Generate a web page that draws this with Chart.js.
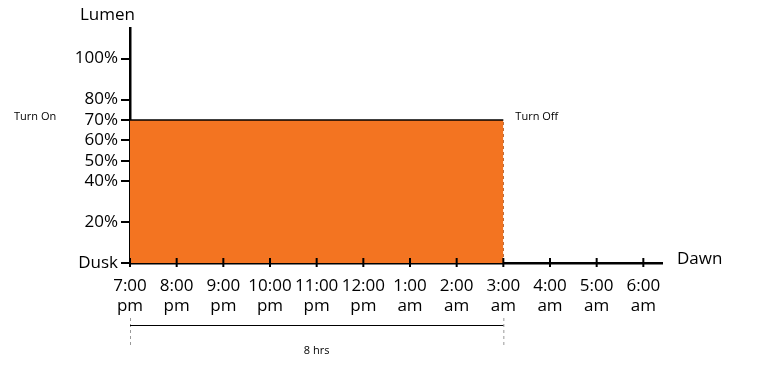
<!DOCTYPE html>
<html><head><meta charset="utf-8">
<script src="https://cdn.jsdelivr.net/npm/chart.js@4"></script>
<style>html,body{margin:0;padding:0;background:#fff}#wrap{width:759px;height:369px}</style>
</head><body><div id="wrap"><canvas id="c"></canvas></div>
<script>
const hours = [0,1,2,3,4,5,6,7,8,9,10,11];
const hourLabels = [["7:00","pm"],["8:00","pm"],["9:00","pm"],["10:00","pm"],["11:00","pm"],["12:00","pm"],["1:00","am"],["2:00","am"],["3:00","am"],["4:00","am"],["5:00","am"],["6:00","am"]];
const yTicks = [0,20,40,50,60,70,80,100];
const yTickLabels = ["Dusk","20%","40%","50%","60%","70%","80%","100%"];
const onHour = 0, offHour = 8;
const lumenLevel = 70;
const durationLabel = "8 hrs";

const FONT = "'Open Sans', sans-serif";

const annot = {
  id: 'annot',
  afterDraw(chart) {
    const ctx = chart.ctx, x = chart.scales.x, y = chart.scales.y;
    const y0 = y.getPixelForValue(0);
    const xOn = x.getPixelForValue(onHour), xOff = x.getPixelForValue(offHour);
    const yL = y.getPixelForValue(lumenLevel);
    ctx.save();
    ctx.strokeStyle = '#000'; ctx.lineWidth = 2;
    hours.forEach(h => { const px = x.getPixelForValue(h); ctx.beginPath(); ctx.moveTo(px, y0 - 5); ctx.lineTo(px, y0 + 4); ctx.stroke(); });
    ctx.fillStyle = '#000';
    ctx.font = "17px " + FONT; ctx.textBaseline = 'middle';
    ctx.textAlign = 'left';
    ctx.fillText('Lumen', 80, 15);
    ctx.fillText('Dawn', x.right + 15, y0 - 4);
    ctx.font = "11px " + FONT;
    ctx.fillText('Turn On', 14, yL - 3);
    ctx.fillText('Turn Off', xOff + 12, yL - 3);
    const yb = 325;
    ctx.strokeStyle = '#999'; ctx.lineWidth = 1; ctx.setLineDash([3,3]);
    [xOn, xOff].forEach(px => { ctx.beginPath(); ctx.moveTo(px + 0.5, 318); ctx.lineTo(px + 0.5, 346); ctx.stroke(); });
    ctx.setLineDash([]); ctx.strokeStyle = '#000';
    ctx.beginPath(); ctx.moveTo(xOn, yb + 0.5); ctx.lineTo(xOff, yb + 0.5); ctx.stroke();
    ctx.textAlign = 'center';
    ctx.fillText(durationLabel, (xOn + xOff) / 2, 351);
    ctx.restore();
  }
};

new Chart(document.getElementById('c'), {
  type: 'line',
  data: {
    datasets: [
      { data: [{x: onHour, y: lumenLevel}, {x: offHour, y: lumenLevel}], borderColor: '#000', borderWidth: 1.5,
        backgroundColor: '#F37421', fill: 'origin', pointRadius: 0, tension: 0 },
      { data: [{x: offHour, y: 0}, {x: offHour, y: lumenLevel}], borderColor: '#A8501A', borderWidth: 1,
        borderDash: [3,3], fill: false, pointRadius: 0 }
    ]
  },
  options: {
    responsive: true, maintainAspectRatio: false, animation: false,
    layout: { padding: { top: 28, right: 97, left: 0, bottom: 0 } },
    plugins: { legend: { display: false }, tooltip: { enabled: false } },
    scales: {
      x: {
        type: 'linear', min: 0, max: 11.4,
        afterBuildTicks: s => { s.ticks = hours.map(v => ({ value: v })); },
        afterFit: s => { s.height = 106; },
        grid: { display: false },
        border: { display: true, color: '#000', width: 2.5 },
        ticks: { color: '#000', font: { family: FONT, size: 17 }, padding: 5, maxRotation: 0, autoSkip: false,
          callback: (v) => hourLabels[hours.indexOf(v)] }
      },
      y: {
        min: 0, max: 115,
        afterBuildTicks: s => { s.ticks = yTicks.map(v => ({ value: v })); },
        afterFit: s => { s.width = 130; },
        grid: { drawOnChartArea: false, color: '#000', lineWidth: 2, tickLength: 9 },
        border: { display: true, color: '#000', width: 2.5 },
        ticks: { color: '#000', font: { family: FONT, size: 17 }, padding: 3, autoSkip: false,
          callback: (v) => yTickLabels[yTicks.indexOf(v)] }
      }
    }
  },
  plugins: [annot]
});
</script></body></html>
